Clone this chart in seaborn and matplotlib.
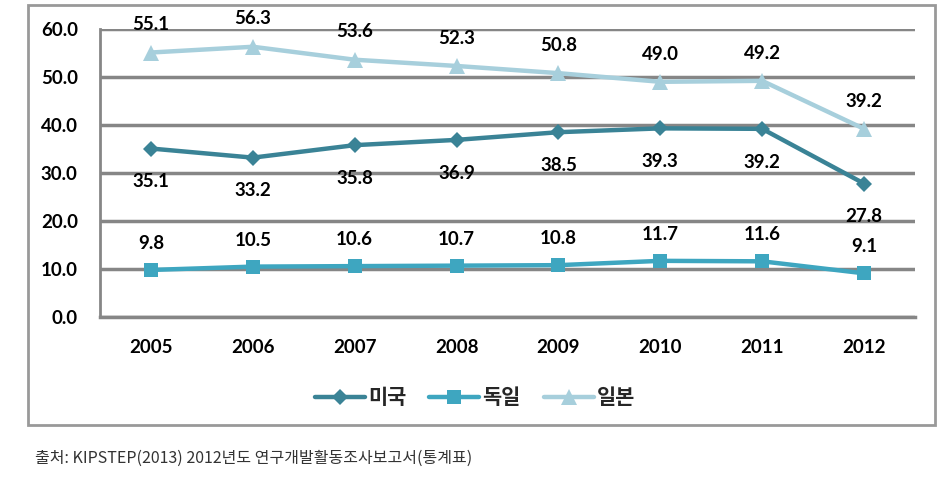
#!/usr/bin/env python3
# -*- coding: utf-8 -*-
"""
미국 / 독일 / 일본 추이, 2005-2012.
"""
#%%
import matplotlib.pyplot as plt
import numpy as np
import pandas as pd
import seaborn as sns
from matplotlib.lines import Line2D
from matplotlib.patches import Rectangle

#%%
years = ["2005", "2006", "2007", "2008", "2009", "2010", "2011", "2012"]
usa = [35.1, 33.2, 35.8, 36.9, 38.5, 39.3, 39.2, 27.8]
germany = [9.8, 10.5, 10.6, 10.7, 10.8, 11.7, 11.6, 9.1]
japan = [55.1, 56.3, 53.6, 52.3, 50.8, 49.0, 49.2, 39.2]
names = ["미국", "독일", "일본"]
source = "출처: KIPSTEP(2013) 2012년도 연구개발활동조사보고서(통계표)"

#%%
sns.set_style("white")
plt.rcParams["font.family"] = ["Lato", "Noto Sans CJK KR", "DejaVu Sans"]
grey = "#868686"

df = pd.DataFrame({
    "pos": list(range(len(years))) * 3,
    "value": usa + germany + japan,
    "country": sum([[n] * len(years) for n in names], []),
})

colors = {"미국": "#3a8396", "독일": "#3ea6c0", "일본": "#a7cfdc"}
markers = {"미국": "D", "독일": "s", "일본": "^"}
msizes = {"미국": 8, "독일": 10, "일본": 12}
offsets = {"미국": -24, "독일": 19, "일본": 20}  # label offset in points

fig = plt.figure(figsize=(9.47, 4.79), dpi=100, facecolor="white")
ax = fig.add_axes([100 / 947, 1 - 317 / 479, 815 / 947, 288 / 479])

for n in names:
    sub = df[df["country"] == n]
    sns.lineplot(
        data=sub, x="pos", y="value", ax=ax, color=colors[n],
        marker=markers[n], markersize=msizes[n], markeredgewidth=0,
        lw=3.2, zorder=3, legend=False,
    )
    for x, v in zip(sub["pos"], sub["value"]):
        ax.annotate(
            "%.1f" % v, (x, v), xytext=(0, offsets[n]), textcoords="offset points",
            ha="center", va="center", fontsize=13.5, fontweight="bold", color="#000000",
        )

ax.set_xlim(-0.5, len(years) - 0.5)
ax.set_ylim(0, 60)
ax.set_yticks(np.arange(0, 61, 10))
ax.set_yticklabels(["%.1f" % t for t in np.arange(0, 61, 10)], fontsize=13.5, fontweight="bold")
ax.set_xticks(range(len(years)))
ax.set_xticklabels(years, fontsize=13.5, fontweight="bold")
ax.set_xticks(np.arange(-0.5, len(years), 1), minor=True)
ax.tick_params(axis="x", which="major", length=0, pad=16, colors="#000000")
ax.tick_params(axis="x", which="minor", length=5, width=2.5, color=grey, direction="out")
ax.tick_params(axis="y", length=8, width=2.5, color=grey, pad=8, labelcolor="#000000")
ax.set_xlabel(""); ax.set_ylabel("")
ax.yaxis.grid(True, color=grey, lw=2.5, zorder=0)
ax.set_axisbelow(True)
for s in ["top", "right"]:
    ax.spines[s].set_visible(False)
ax.spines["left"].set_color(grey)
ax.spines["left"].set_linewidth(2)
ax.spines["bottom"].set_color(grey)
ax.spines["bottom"].set_linewidth(2.5)
for line in ax.lines:
    line.set_clip_on(False)

handles = [
    Line2D([], [], color=colors[n], marker=markers[n], markersize=msizes[n],
           markeredgewidth=0, lw=3.2)
    for n in names
]
fig.legend(
    handles, names, loc="center", bbox_to_anchor=(475 / 947, 1 - 398 / 479),
    ncol=3, frameon=False, handlelength=2.4, handletextpad=0.15, columnspacing=1.1,
    prop={"size": 15, "weight": "bold"},
)

fig.patches.append(Rectangle(
    (28 / 947, 1 - 425 / 479), 907 / 947, 420 / 479, transform=fig.transFigure,
    fill=False, edgecolor="#999999", lw=2,
))
fig.text(35 / 947, 1 - 458 / 479, source, fontsize=11.5, color="#333333",
         ha="left", va="center", family=["Noto Sans CJK KR", "DejaVu Sans"])

plt.savefig("out.png", dpi=100, facecolor="white")
